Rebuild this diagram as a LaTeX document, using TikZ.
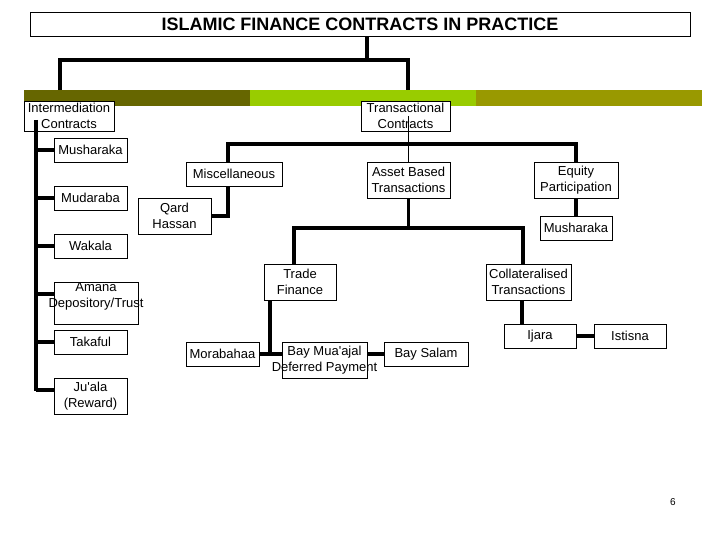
\documentclass[tikz,border=0pt]{standalone}
\usepackage{fontspec}
\setmainfont{Liberation Sans}
\usetikzlibrary{positioning}

\definecolor{barDark}{HTML}{666600}
\definecolor{barLight}{HTML}{99CC00}
\definecolor{barOlive}{HTML}{999900}

% one centred line that may run past its box
\newcommand{\tline}[1]{\makebox[0pt]{#1}}

\tikzset{
  cbox/.style 2 args={draw, fill=white, line width=0.9pt, minimum width=#1,
    minimum height=#2, inner sep=0pt, align=center,
    font=\fontsize{13}{16}\selectfont},
  conn/.style={line width=3.5pt},
  thinline/.style={line width=0.9pt},
}

\begin{document}
\begin{tikzpicture}[x=1pt,y=-1pt]
\useasboundingbox (0,0) rectangle (720,540);

% Title and first split
\node[draw, fill=white, line width=0.9pt, minimum width=660pt, minimum height=24pt,
  inner sep=0pt, font=\bfseries\fontsize{18}{20}\selectfont] (title) at (360,24)
  {ISLAMIC FINANCE CONTRACTS IN PRACTICE};
\coordinate (jT) at (367,60);
\draw[conn] (title.south -| jT) -- (jT) -| (60,90);
\draw[conn] (jT) -| (408,90);

% Coloured bar
\fill[barDark] (24,90) rectangle (250,106);
\fill[barLight] (250,90) rectangle (476,106);
\fill[barOlive] (476,90) rectangle (702,106);

% Intermediation side
\node[cbox={90pt}{30pt}] (IC) at (69,116) {\tline{Intermediation}\\\tline{Contracts}};
\node[cbox={73pt}{24pt}] (Mush) at (90.5,150) {Musharaka};
\node[cbox={73pt}{24pt}] (Mud) at (90.5,198) {Mudaraba};
\node[cbox={73pt}{24pt}] (Wak) at (90.5,246) {Wakala};
\node[cbox={84pt}{42pt}] (Amana) at (96,303) {\tline{Amana}\\\tline{Depository/Trust}\\[0pt]\mbox{}};
\node[cbox={73pt}{24pt}] (Tak) at (90.5,342) {Takaful};
\node[cbox={73pt}{36pt}] (Juala) at (90.5,396) {Ju\textquotesingle ala\\(Reward)};

\coordinate (spT) at (36,120);
\draw[conn] (spT) -- (spT |- 0,391);
\foreach \b in {Mush,Mud,Wak,Tak}
  \draw[conn] (spT |- \b.west) -- (\b.west);
\draw[conn] (spT |- 0,294) -- (Amana.west |- 0,294);
\draw[conn] (spT |- 0,390) -- (Juala.west |- 0,390);

% Transactional side
\node[cbox={89pt}{30pt}] (TC) at (405.5,116) {\tline{Transactional}\\\tline{Contracts}};
\node[cbox={96pt}{24pt}] (Misc) at (234,174) {Miscellaneous};
\node[cbox={73pt}{36pt}] (Qard) at (174.5,216) {Qard\\Hassan};
\node[cbox={83pt}{36pt}] (ABT) at (408.5,180) {Asset Based\\Transactions};
\node[cbox={84pt}{36pt}] (Equity) at (576,180) {Equity\\Participation};
\node[cbox={72pt}{24pt}] (Mush2) at (576,228) {Musharaka};
\draw[thinline] (TC.center -| ABT.north) -- (ABT.north);

\coordinate (jM) at (228,144);
\draw[conn] (Misc.north -| jM) -- (jM) -| (Equity.north);
\draw[conn] (Misc.south -| jM) |- (Qard.east);
\draw[conn] (Equity.south) -- (Mush2.north);

% Asset based transactions
\node[cbox={72pt}{36pt}] (TF) at (300,282) {Trade\\Finance};
\node[cbox={85pt}{36pt}] (CT) at (528.5,282) {Collateralised\\Transactions};
\coordinate (jTF) at (294,228);
\coordinate (jCT) at (523,228);
\draw[conn] (ABT.south) -- (ABT.south |- jTF);
\draw[conn] (TF.north -| jTF) -- (jTF) -- (jCT) -- (CT.north -| jCT);

% Trade finance
\node[cbox={73pt}{24pt}] (Mora) at (222.5,354) {Morabahaa};
\node[cbox={85pt}{36pt}] (BMA) at (324.5,360) {\tline{Bay Mua\textquotesingle ajal}\\\tline{Deferred Payment}};
\node[cbox={84pt}{24pt}] (BS) at (426,354) {Bay Salam};
\coordinate (jB) at (270,354);
\draw[conn] (TF.south -| jB) -- (jB);
\draw[conn] (Mora.east) -- (Mora.east -| BMA.west);
\draw[conn] (BS.west -| BMA.east) -- (BS.west);

% Collateralised transactions
\node[cbox={72pt}{24pt}] (Ijara) at (540,336) {Ijara};
\node[cbox={72pt}{24pt}] (Ist) at (630,336) {Istisna};
\draw[conn] (CT.south -| 522,0) -- (Ijara.north -| 522,0);
\draw[conn] (Ijara.east) -- (Ist.west);

% Page number
\node[font=\fontsize{10}{12}\selectfont] (page) at (673,502) {6};

\end{tikzpicture}
\end{document}
